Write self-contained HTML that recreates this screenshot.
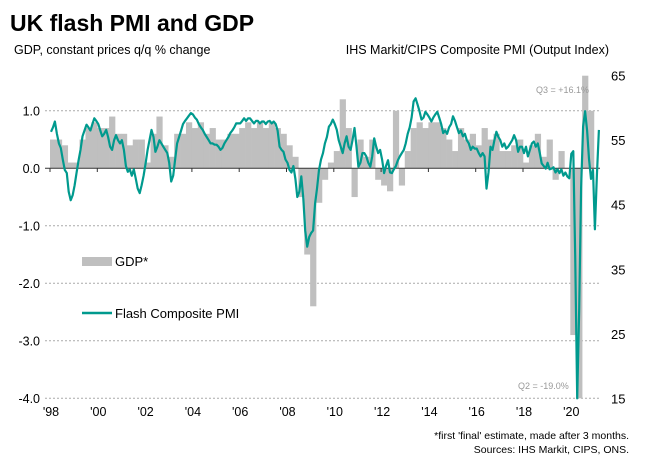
<!DOCTYPE html>
<html><head><meta charset="utf-8"><style>
body{margin:0;background:#fff;}
svg{display:block;font-family:"Liberation Sans",Arial,sans-serif;}
</style></head><body>
<svg id="chart" width="649" height="472" viewBox="0 0 649 472">
<text x="10" y="31" font-size="23" font-weight="bold" fill="#000">UK flash PMI and GDP</text>
<text x="14" y="54" font-size="12.5" fill="#000">GDP, constant prices q/q % change</text>
<text x="609" y="54" font-size="12.5" fill="#000" text-anchor="end">IHS Markit/CIPS Composite PMI (Output Index)</text>
<g id="grid"></g>
<g id="bars"></g>
<g id="axes"></g>
<path id="pmi" fill="none" stroke="#009a8e" stroke-width="2.2" stroke-linejoin="round"></path>
<text x="536" y="93" font-size="9" fill="#999">Q3 = +16.1%</text>
<text x="518" y="389" font-size="9" fill="#999">Q2 = -19.0%</text>
<g>
<rect x="82" y="257" width="30" height="9" fill="#bfbfbf"/>
<text x="115" y="266" font-size="13">GDP*</text>
<line x1="82" y1="313" x2="112" y2="313" stroke="#009a8e" stroke-width="2.5"/>
<text x="115" y="318" font-size="13">Flash Composite PMI</text>
</g>
<text x="629" y="439" font-size="10.5" text-anchor="end">*first 'final' estimate, made after 3 months.</text>
<text x="629" y="453" font-size="10.5" text-anchor="end">Sources: IHS Markit, CIPS, ONS.</text>
</svg>
<script>
const gdpTicks=[1,0,-1,-2,-3,-4];
const gdpTickLabels=["1.0","0.0","-1.0","-2.0","-3.0","-4.0"];
const pmiTicks=[65,55,45,35,25,15];
const yearTicks=[1998,2000,2002,2004,2006,2008,2010,2012,2014,2016,2018,2020];
const yearLabels=["'98","'00","'02","'04","'06","'08","'10","'12","'14","'16","'18","'20"];
const gdpQuarterly=[
0.5,0.5,0.4,0.1, 0.1,0.5,0.7,0.8, 0.7,0.7,0.9,0.6, 0.6,0.4,0.5,0.5,
0.1,0.6,0.9,0.4, 0.2,0.6,0.6,0.8, 0.7,0.8,0.6,0.7, 0.5,0.5,0.6,0.6,
0.7,0.8,0.7,0.8, 0.7,0.8,0.7,0.6, 0.4,0.2,-0.5,-1.5, -2.4,-0.6,-0.2,0.1,
0.3,1.2,0.7,-0.5, 0.5,0.2,0.5,-0.2, -0.3,-0.4,1.0,-0.3, 0.3,0.7,0.8,0.7,
0.8,0.8,0.7,0.5, 0.3,0.7,0.5,0.6, 0.4,0.7,0.5,0.6, 0.3,0.3,0.4,0.5,
0.1,0.4,0.6,0.2, 0.5,-0.2,0.3,0.0, -2.9,-19.0,16.1,1.0];
const pmiMonthly=[
56.3,57,57.9,56,54.5,53.8,52,50.4,49.9,47,45.7,46.5,
48,50,51.9,53.5,55.6,56.5,57.4,57,56.5,57.5,58.4,58,
57.5,56.5,55.6,56,56.6,55.5,54,53.5,55,55.8,55,54.5,
55,53.5,51,50.1,50.5,49.5,50.5,49.1,47.5,46.8,48,49.5,
51.4,53.5,55,56.6,55.5,53.2,54,55,54.5,54,53.5,53,
51.5,48.6,49.5,52,54.5,55.5,56.5,57.5,58,58.4,58.8,59.2,
59,58.5,58.2,57.5,57,56.6,56,55.5,55,54.5,54.5,54.3,
54.3,54,53.5,53.8,54.5,55,55.5,56.1,56.5,57,57.6,57.6,
57.6,58,58.4,58,58.4,58.4,58,57.6,58,58,57.6,57.9,
57.9,57.5,57.9,58,57.6,57.9,57.5,56.5,54,53.5,53.2,52,
51.5,50.4,50,51,49,46.2,47,49.4,46,41,38.5,40,
40.6,41,45.2,47.5,50.4,52,53,54.5,55.5,57.1,57.5,58.2,
57.5,56.6,55,54,53,54.5,55.6,54,53.5,55,56.9,54,
50.9,51.5,53,53,52.5,51.5,50.9,52.5,55.3,54,53,53.5,
52,49.9,51,51.9,50,49.9,50.5,51,51.9,52.5,53,53.5,
54.5,56,57,58.5,61,61.5,60.5,59.5,58.2,58.5,59.4,59,
58.5,57.9,58.5,59,59.4,58.5,57.5,56.1,56.5,56,57,57.5,
58.7,58,57,56.1,56.5,55.6,56,55,54.5,53.5,54,53.7,
53.7,53,52.5,53,52.5,47.5,50,54,53.5,55,56.3,55.5,
55,54,54.5,53.7,54,54.5,55,55.8,55,53.2,54,54,
53,54,52.5,53.5,54.5,54.8,54,54.5,53,51.4,51,50.6,
51.5,50.5,50.6,50.8,50,50.5,49.9,50.5,49.5,50,49.4,49.1,
52.9,53.3,37.1,13.8,28.9,47.6,57.1,59.5,56.5,52.1,49,50.4,
41.2,49.6,56.6];
const X0=50,PX=23.65,TOP=75.7,BOT=398.3,R=600;
const xT=t=>X0+(t-1998)*PX;
const yG=v=>168.3-v*57.5;
const yP=v=>398.3-(v-15)*6.452;
const clip=y=>Math.max(TOP,Math.min(BOT,y));
const NS="http://www.w3.org/2000/svg";
function mk(tag,attrs,parent){const e=document.createElementNS(NS,tag);for(const k in attrs)e.setAttribute(k,attrs[k]);parent.appendChild(e);return e;}
const grid=document.getElementById('grid'),axes=document.getElementById('axes'),bars=document.getElementById('bars');
gdpTicks.forEach((v,i)=>{
  if(v!==0){const l=mk('line',{x1:45,x2:R,y1:yG(v),y2:yG(v),stroke:'#aaa','stroke-dasharray':'2,2','stroke-width':1},grid);
  
  }
  const t=mk('text',{x:40,y:yG(v)+4.5,'font-size':12.5,'text-anchor':'end'},axes);t.textContent=gdpTickLabels[i];
  
  
});
pmiTicks.forEach(v=>{
  const t=mk('text',{x:611,y:yP(v)+5,'font-size':13},axes);t.textContent=v;
  
  
});
yearTicks.forEach((yr,i)=>{
  const t=mk('text',{x:xT(yr)+1,y:416,'font-size':12.5,'text-anchor':'middle'},axes);t.textContent=yearLabels[i];
  
  
  const k=mk('line',{x1:xT(yr),x2:xT(yr),y1:168.3,y2:172,stroke:'#333'},axes);
  
  
});
const bw=PX/4;
gdpQuarterly.forEach((v,q)=>{
  const x=xT(1998+q/4);const y0=yG(0),y1=clip(yG(v));
  const r=mk('rect',{x:x,y:Math.min(y0,y1),width:bw+0.3,height:Math.abs(y1-y0),fill:'#bfbfbf'},bars);
  
  
});
const zl=mk('line',{x1:45,x2:R,y1:168.3,y2:168.3,stroke:'#333','stroke-width':1},axes);


let d='';
pmiMonthly.forEach((v,m)=>{const x=xT(1998+m/12+1/24);d+=(m?'L':'M')+x.toFixed(1)+','+clip(yP(v)).toFixed(1);});
document.getElementById('pmi').setAttribute('d',d);
</script>
</body></html>
